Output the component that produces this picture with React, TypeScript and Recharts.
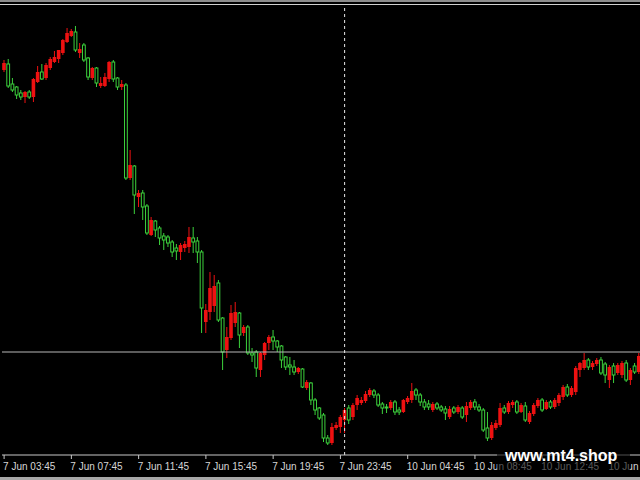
import { ComposedChart, Bar, XAxis, YAxis, ReferenceLine } from "recharts";

// 15 min candles, 7 Jun 03:45 -> 10 Jun 18:30 (weekend gap after bar 80)
const OPEN = [
  390, 396, 376, 373, 367, 363, 368, 363, 378, 388,
  382, 392, 398, 401, 407, 418, 424, 428, 407, 415,
  402, 382, 392, 374, 374, 381, 398, 382, 373, 375,
  282, 294, 263, 267, 254, 225, 239, 232, 224, 223,
  218, 212, 208, 212, 213, 222, 219, 208, 138, 148,
  154, 177, 142, 110, 122, 137, 147, 127, 133, 107,
  108, 90, 105, 117, 123, 119, 114, 103, 95, 93,
  88, 91, 72, 77, 60, 52, 45, 22, 17, 32,
  33, 40, 52, 43, 55, 57, 59, 65, 69, 65,
  56, 53, 52, 58, 50, 48, 58, 60, 70, 65,
  58, 56, 50, 56, 53, 51, 43, 52, 48, 52,
  45, 52, 58, 53, 50, 32, 22, 32, 35, 52,
  48, 55, 58, 48, 54, 38, 46, 54, 60, 51,
  58, 53, 57, 63, 73, 65, 68, 90, 92, 100,
  93, 96, 100, 96, 80, 94, 87, 85, 97, 80,
  94, 88,
];
const HIGH = [
  400, 401, 382, 374, 370, 369, 370, 382, 394, 396,
  397, 403, 409, 410, 421, 432, 431, 434, 417, 417,
  403, 393, 393, 383, 387, 399, 400, 383, 380, 377,
  310, 295, 270, 270, 256, 243, 240, 234, 227, 225,
  220, 216, 217, 219, 233, 233, 223, 210, 156, 188,
  185, 180, 143, 133, 155, 158, 148, 135, 135, 112,
  110, 108, 118, 125, 130, 120, 115, 104, 103, 100,
  93, 92, 80, 78, 62, 53, 47, 25, 37, 38,
  45, 52, 55, 57, 65, 63, 69, 72, 71, 67,
  58, 56, 60, 60, 53, 61, 64, 77, 72, 67,
  61, 60, 58, 58, 55, 54, 54, 54, 55, 54,
  58, 60, 61, 56, 52, 48, 38, 40, 57, 55,
  59, 60, 60, 57, 58, 49, 57, 62, 62, 60,
  60, 62, 67, 75, 76, 74, 94, 98, 107, 102,
  99, 102, 103, 98, 95, 97, 97, 99, 100, 92,
  97, 107,
];
const LOW = [
  388, 372, 368, 361, 360, 357, 361, 358, 377, 380,
  380, 390, 397, 397, 405, 417, 423, 408, 402, 398,
  380, 380, 373, 372, 373, 378, 378, 370, 370, 280,
  280, 246, 253, 240, 225, 224, 223, 215, 210, 213,
  203, 200, 200, 208, 207, 207, 197, 127, 127, 140,
  148, 138, 90, 102, 120, 133, 112, 124, 105, 98,
  83, 83, 100, 110, 110, 108, 92, 90, 85, 85,
  86, 72, 70, 55, 45, 40, 18, 15, 15, 30,
  27, 27, 36, 40, 50, 55, 57, 63, 62, 53,
  46, 47, 50, 45, 45, 47, 56, 57, 60, 54,
  50, 50, 48, 50, 48, 40, 41, 46, 46, 41,
  38, 50, 50, 48, 28, 19, 20, 30, 33, 46,
  46, 52, 46, 47, 38, 36, 44, 52, 48, 50,
  51, 51, 54, 60, 63, 63, 65, 83, 90, 90,
  90, 94, 85, 77, 72, 77, 85, 82, 78, 75,
  86, 86,
];
const CLOSE = [
  397, 374, 370, 365, 363, 368, 363, 381, 388, 381,
  395, 401, 403, 410, 420, 427, 429, 410, 411, 400,
  383, 392, 377, 377, 383, 398, 381, 373, 376, 282,
  295, 265, 267, 253, 227, 240, 230, 222, 220, 217,
  208, 209, 215, 216, 223, 218, 208, 152, 150, 172,
  174, 140, 108, 123, 147, 148, 125, 133, 107, 105,
  92, 107, 117, 123, 119, 113, 100, 93, 93, 88,
  92, 73, 78, 60, 50, 42, 22, 17, 33, 35,
  43, 50, 40, 55, 62, 60, 66, 70, 65, 55,
  52, 52, 58, 48, 48, 60, 62, 69, 65, 58,
  53, 53, 56, 52, 50, 47, 51, 48, 53, 43,
  54, 58, 53, 50, 30, 22, 35, 37, 52, 48,
  57, 58, 48, 55, 40, 47, 55, 60, 50, 58,
  53, 60, 65, 73, 65, 72, 92, 97, 100, 93,
  97, 100, 87, 85, 93, 85, 95, 97, 80, 90,
  88, 104,
];

const TICK_LABELS = [
  "7 Jun 03:45", "7 Jun 07:45", "7 Jun 11:45", "7 Jun 15:45", "7 Jun 19:45",
  "7 Jun 23:45", "10 Jun 04:45", "10 Jun 08:45", "10 Jun 12:45", "10 Jun 16:45",
];
const TICK_EVERY = 16;
const DAY_SEPARATOR = 81; // first bar of 10 Jun
const PRICE_LEVEL = 108;

const UP = "#ee1111";
const DOWN = "#3cd23c";
const AXIS = "#c8c8c8";

const data = OPEN.map((open, i) => ({
  i,
  open,
  high: HIGH[i],
  low: LOW[i],
  close: CLOSE[i],
  range: [LOW[i], HIGH[i]],
}));

const Candle = (props: any) => {
  const { x, y, width, height, payload } = props;
  const { open, close, high, low } = payload;
  const k = height / (high - low || 1);
  const cx = x + width / 2;
  const yOpen = y + (high - open) * k;
  const yClose = y + (high - close) * k;
  const top = Math.min(yOpen, yClose);
  const h = Math.max(Math.abs(yOpen - yClose), 1);
  const up = close > open;
  const color = up ? UP : DOWN;
  return (
    <g>
      <line x1={cx} x2={cx} y1={y} y2={y + height} stroke={color} strokeWidth={1} />
      {up ? (
        <rect x={cx - 1.8} y={top} width={3.6} height={h} fill={UP} />
      ) : (
        <rect x={cx - 1.4} y={top} width={2.8} height={h} fill="#000" stroke={DOWN} strokeWidth={1} />
      )}
    </g>
  );
};

const TimeTick = ({ x, y, payload }: any) => (
  <text
    x={x - 1}
    y={y + 9}
    fill="#d6d6d6"
    fontSize={10}
    fontFamily="'Liberation Sans', Arial, sans-serif"
    textAnchor="start"
  >
    {TICK_LABELS[payload.value / TICK_EVERY]}
  </text>
);

export default function App() {
  return (
    <div style={{ position: "relative", width: 640, height: 480, overflow: "hidden", background: "#000" }}>
      <style>{"body{margin:0;background:#000}"}</style>
      <div style={{ position: "absolute", left: 0, top: 0, width: 640, height: 2, background: "#8c8c8c" }} />
      <div style={{ position: "absolute", left: 0, top: 4, width: 640, height: 1, background: "#d0d0d0" }} />
      <div style={{ position: "absolute", left: 0, top: 477, width: 640, height: 3, background: "#a8a8a8" }} />
      <div style={{ position: "absolute", left: 0, top: 0 }}>
        <ComposedChart
          width={642}
          height={477}
          data={data}
          margin={{ top: 5, right: 1, bottom: 0, left: 2 }}
          barCategoryGap="0%"
        >
          <XAxis
            dataKey="i"
            interval={TICK_EVERY - 1}
            height={22}
            tickSize={4}
            axisLine={{ stroke: AXIS }}
            tickLine={{ stroke: AXIS }}
            tick={TimeTick}
          />
          <YAxis hide type="number" domain={[5, 455]} allowDataOverflow />
          <ReferenceLine y={PRICE_LEVEL} stroke="#b8b8b8" strokeWidth={1} />
          <ReferenceLine x={DAY_SEPARATOR} stroke="#e8e8e8" strokeDasharray="3 3" />
          <Bar dataKey="range" shape={Candle} isAnimationActive={false} />
        </ComposedChart>
      </div>
      <div
        style={{
          position: "absolute",
          left: 497,
          top: 446,
          width: 133,
          height: 28,
          background: "rgba(0,0,0,0.6)",
        }}
      />
      <div
        style={{
          position: "absolute",
          left: 505,
          top: 447,
          color: "#fff",
          fontFamily: "'Liberation Sans', Arial, sans-serif",
          fontWeight: "bold",
          fontSize: 16,
          lineHeight: "18px",
          whiteSpace: "nowrap",
        }}
      >
        www.mt4.shop
      </div>
    </div>
  );
}
